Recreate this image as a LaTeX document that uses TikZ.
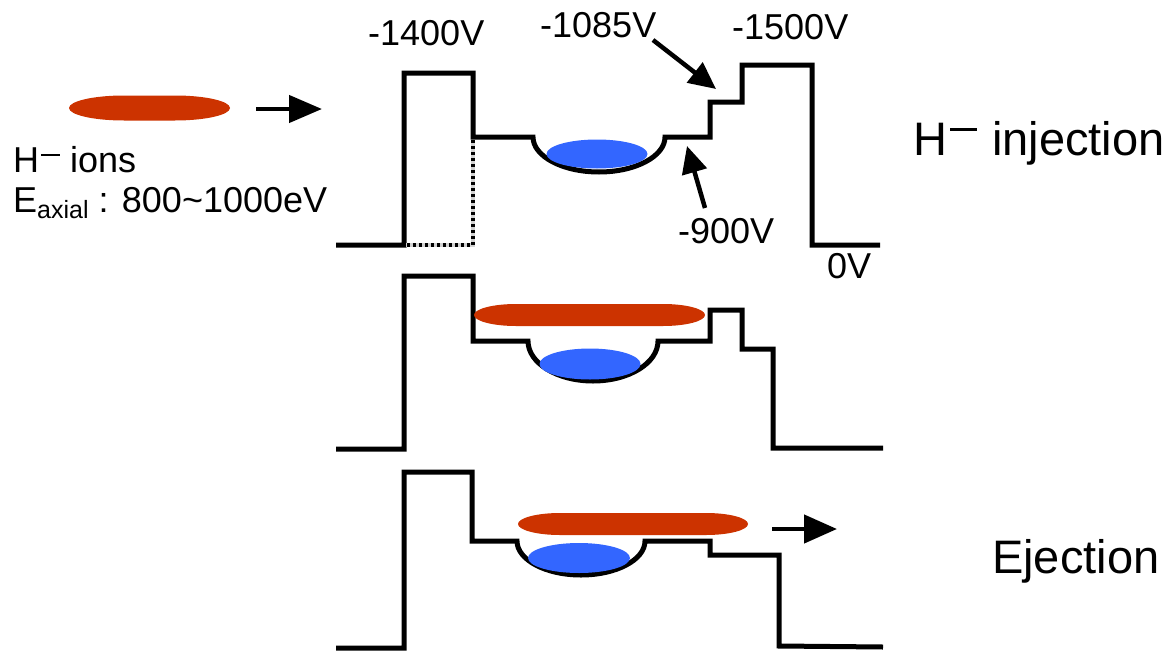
\documentclass[tikz,border=0pt]{standalone}
\usepackage{fontspec}
\setmainfont{Liberation Sans}
\usetikzlibrary{arrows.meta,shapes.geometric}
\definecolor{ionred}{HTML}{CC3300}
\definecolor{ionblue}{HTML}{3366FF}
\newcommand\ionpill[5]{% x1 x2 yc h a
  \fill[ionred] ({#1+#5},{#3-#4}) -- ({#2-#5},{#3-#4})
    .. controls ({#2-0.45*#5},{#3-#4}) and (#2,{#3-0.55*#4}) .. (#2,#3)
    .. controls (#2,{#3+0.55*#4}) and ({#2-0.45*#5},{#3+#4}) .. ({#2-#5},{#3+#4})
    -- ({#1+#5},{#3+#4})
    .. controls ({#1+0.45*#5},{#3+#4}) and (#1,{#3+0.55*#4}) .. (#1,#3)
    .. controls (#1,{#3-0.55*#4}) and ({#1+0.45*#5},{#3-#4}) .. cycle;}
\tikzset{
  profile/.style={line width=5pt, line join=miter},
  hatchline/.style={line width=4.5pt, black, dash pattern=on 3pt off 3pt},
  lbl/.style={anchor=base west, inner sep=0pt, font=\fontsize{36}{42}\selectfont},
  big/.style={anchor=base west, inner sep=0pt, font=\fontsize{47}{54}\selectfont},
  blueblob/.style={ellipse, fill=ionblue, inner sep=0pt},
  bigarrow/.style={line width=4.5pt, -{Triangle[length=27pt,width=25pt]}},
}
\begin{document}
\begin{tikzpicture}[x=1pt,y=-1pt]
\useasboundingbox (0,0) rectangle (1167,653);

% ---------- panel 1 ----------
\draw[profile] (336,245) -- (404,245) -- (404,73) -- (473,73) -- (473,137) -- (533,137)
  .. controls (533,156.3) and (562.5,172) .. (599,172)
  .. controls (635.5,172) and (665,156.3) .. (665,137)
  -- (710,137) -- (710,102) -- (742,102) -- (742,65) -- (812,65) -- (812,245) -- (880,245);
\draw[line width=4.5pt, gray!35] (473,140) -- (473,245) -- (406,245);
\draw[hatchline] (473,140) -- (473,245) -- (406,245);
\node[blueblob, minimum width=101pt, minimum height=29pt] (b1) at (597,154) {};

\ionpill{69}{230}{108}{12.5}{55}
\coordinate (inA) at (256,109);
\coordinate (inB) at (322,109);
\draw[line width=4.5pt, -{Triangle[length=33pt,width=27pt]}] (inA) -- (inB);

\node[lbl] (l1400) at (368,45) {-1400V};
\node[lbl] (l1085) at (540,37) {-1085V};
\node[lbl] (l1500) at (732,39) {-1500V};
\node[lbl] (l900) at (678,243) {-900V};
\node[lbl] (l0) at (827,278) {0V};
\coordinate (a1s) at (653,40);
\coordinate (a1t) at (716,89);
\draw[bigarrow] (a1s) -- (a1t);
\coordinate (a2s) at (705,208);
\coordinate (a2t) at (687,146);
\draw[bigarrow] (a2s) -- (a2t);

\node[lbl] (hions) at (13,172) {H\hspace{2pt}\rule[16pt]{19pt}{2.5pt} ions};
\node[lbl] (eax) at (13,212) {E{\fontsize{25}{28}\selectfont\raisebox{-6pt}{axial}} : 800\textasciitilde1000eV};
\node[big] (tinj) at (913,155) {H\hspace{3pt}\rule[24pt]{27pt}{3pt}\hspace{2pt} injection};

% ---------- panel 2 ----------
\draw[profile] (336,449) -- (404,449) -- (404,276) -- (473,276) -- (473,341) -- (528,341)
  .. controls (528,363.1) and (557.1,381) .. (593,381)
  .. controls (628.9,381) and (658,363.1) .. (658,341)
  -- (710,341) -- (710,310) -- (742,310) -- (742,349) -- (773,349) -- (773,448) -- (883,448);
\node[blueblob, minimum width=101pt, minimum height=31pt] (b2) at (590,364) {};
\ionpill{474}{705}{315}{11}{42}

% ---------- panel 3 ----------
\draw[profile] (336,648) -- (404,648) -- (404,472) -- (472,472) -- (472,541) -- (517,541)
  .. controls (517,559.8) and (545.7,575) .. (581,575)
  .. controls (616.3,575) and (645,559.8) .. (645,541)
  -- (710,541) -- (710,555) -- (779,555) -- (779,646) -- (883,647);
\node[blueblob, minimum width=102pt, minimum height=30pt] (b3) at (579,558) {};
\ionpill{518}{748}{524}{11}{42}
\coordinate (ejA) at (772,529);
\coordinate (ejB) at (837,529);
\draw[line width=4.5pt, -{Triangle[length=33pt,width=28pt]}] (ejA) -- (ejB);

\node[big] (tej) at (992,573) {Ejection};
\end{tikzpicture}
\end{document}
